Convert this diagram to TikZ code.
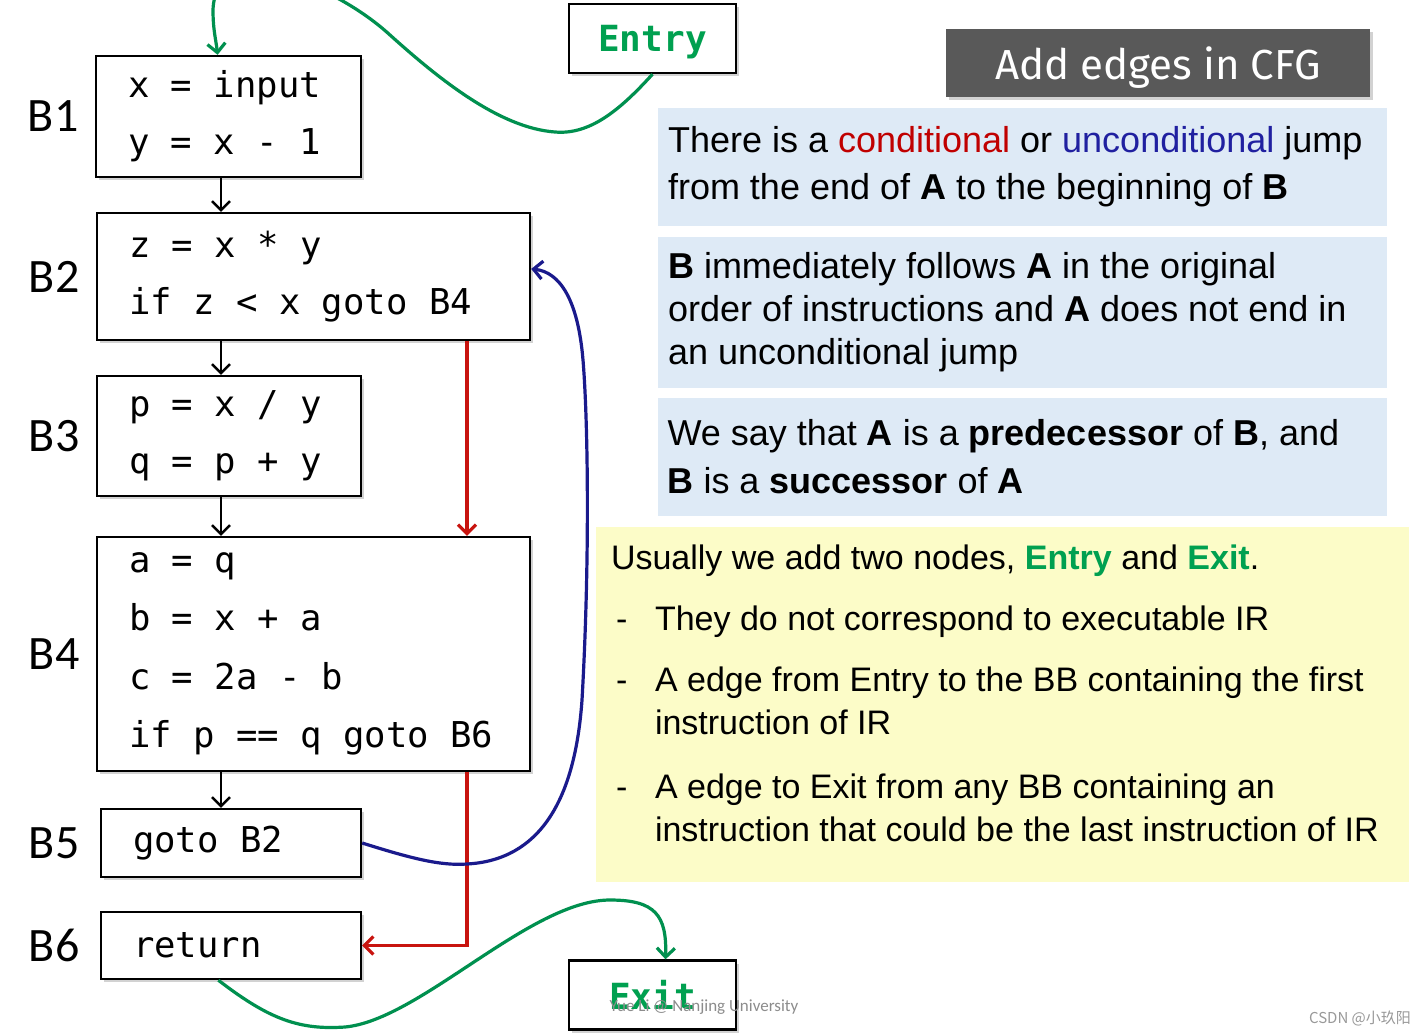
\documentclass[tikz,border=0pt]{standalone}
\usepackage{fontspec}
\setmainfont{Liberation Sans}
\newfontfamily\codefont{DejaVu Sans Mono}
\newfontfamily\blockfont{Carlito}
\newfontfamily\titlefont{Fira Sans}
\newfontfamily\cjkfont{Noto Sans CJK SC}
\usetikzlibrary{arrows.meta, positioning, shadows}
\definecolor{condred}{HTML}{C00000}
\definecolor{uncondblue}{HTML}{2020A0}
\definecolor{jumpred}{HTML}{C8140F}
\definecolor{backblue}{HTML}{1A1A8C}
\definecolor{entrygreen}{HTML}{00A050}
\definecolor{edgegreen}{HTML}{00904F}
\definecolor{infoblue}{HTML}{DEEAF6}
\definecolor{noteyellow}{HTML}{FCFCC8}
\definecolor{titlegray}{HTML}{595959}
\newcommand{\dashitem}{\makebox[22pt][l]{\hspace{2.5pt}-}}
\tikzset{
	blocknode/.style={
			draw=black,
			line width=1.2pt,
			fill=white,
			inner xsep=16pt,
			inner ysep=0pt,
			align=flush left,
			font=\codefont\fontsize{17.8}{28.5}\selectfont,
			drop shadow={shadow xshift=1.5pt,shadow yshift=-1.5pt,opacity=.35}
		},
	labelnode/.style={
			inner sep=2pt,
			font=\blockfont\fontsize{24}{28}\selectfont
		},
	termnode/.style={
			blocknode,
			inner xsep=4pt,
			text depth=0pt,
			minimum width=83.5pt,
			minimum height=34.5pt,
			text=entrygreen,
			font=\codefont\bfseries\fontsize{18}{20}\selectfont
		},
	infonode/.style={
			fill=infoblue,
			inner xsep=5pt,
			inner ysep=0pt,
			text width=354.5pt,
			align=flush left
		},
	notenode/.style={
			fill=noteyellow,
			inner xsep=7.5pt,
			inner ysep=0pt,
			text width=391.5pt,
			text height=1pt,
			minimum height=177.5pt,
			align=flush left,
			font=\fontsize{17}{21.5}\selectfont
		},
	titlenode/.style={
			fill=titlegray,
			text=white,
			text depth=0pt,
			minimum width=212pt,
			minimum height=34pt,
			font=\titlefont\fontsize{21}{24}\selectfont,
			drop shadow={shadow xshift=1.5pt,shadow yshift=-1.5pt,opacity=.35}
		},
	flow/.style={
			line width=1.2pt,
			-{Straight Barb[length=4.5pt,width=9pt]}
		},
	jump/.style={
			flow,
			draw=jumpred,
			line width=1.6pt
		},
	backjump/.style={
			flow,
			draw=backblue,
			line width=1.6pt
		},
	cfgedge/.style={
			flow,
			draw=edgegreen,
			line width=1.6pt
		}
}

\begin{document}
\begin{tikzpicture}[x=0.5pt, y=-0.5pt]
\clip (0,0) rectangle (1424,1035);
\fill[white] (0,0) rectangle (1424,1035);

% basic blocks
\node[blocknode, text width=100.5pt, minimum height=60.5pt] (B1) at (228.5,116.5) {x = input\\y = x - 1};
\node[blocknode, text width=184.5pt, minimum height=63.5pt] (B2) at (313.5,276.5) {z = x * y\\if z < x goto B4};
\node[blocknode, text width=100pt, minimum height=60pt] (B3) at (229,436) {p = x / y\\q = p + y};
\node[blocknode, text width=184.5pt, minimum height=117pt, font=\codefont\fontsize{17.8}{29.2}\selectfont] (B4) at (313.5,654) {a = q\\b = x + a\\c = 2a - b\\if p == q goto B6};
\node[blocknode, text width=98pt, minimum height=34pt] (B5) at (231,843) {goto B2};
\node[blocknode, text width=98pt, minimum height=33.5pt] (B6) at (231,945.5) {return};

\node[labelnode, left=6pt of B1] (lB1) {B1};
\node[labelnode, left=6pt of B2] (lB2) {B2};
\node[labelnode, left=6pt of B3] (lB3) {B3};
\node[labelnode, left=6pt of B4] (lB4) {B4};
\node[labelnode, left=8pt of B5] (lB5) {B5};
\node[labelnode, left=8pt of B6] (lB6) {B6};

\node[termnode] (Entry) at (652.5,38.5) {Entry};
\node[termnode] (Exit) at (652.5,995) {Exit};

% right hand side
\node[titlenode] (title) at (1158,63) {Add edges in CFG};
\node[infonode, minimum height=59pt, font=\fontsize{18}{23.5}\selectfont] (succ) at (1022.5,167)
  {There is a \textcolor{condred}{conditional} or \textcolor{uncondblue}{unconditional} jump\\
   from the end of \textbf{A} to the beginning of \textbf{B}};
\node[infonode, minimum height=75.5pt, font=\fontsize{18}{21.5}\selectfont] (follow) at (1022.5,312.5)
  {\textbf{B} immediately follows \textbf{A} in the original\\
   order of instructions and \textbf{A} does not end in\\
   an unconditional jump};
\node[infonode, minimum height=59pt, font=\fontsize{18}{24}\selectfont] (pred) at (1022,457)
  {We say that \textbf{A} is a \textbf{predecessor} of \textbf{B}, and\\
   \textbf{B} is a \textbf{successor} of \textbf{A}};
\node[notenode] (note) at (1002.5,704.5)
  {Usually we add two nodes, \textcolor{entrygreen}{\textbf{Entry}} and \textcolor{entrygreen}{\textbf{Exit}}.\\[9pt]
   \dashitem They do not correspond to executable IR\\[9pt]
   \dashitem A edge from Entry to the BB containing the first\\
   \hspace*{22pt}instruction of IR\\[10.5pt]
   \dashitem A edge to Exit from any BB containing an\\
   \hspace*{22pt}instruction that could be the last instruction of IR};

% fall through edges
\coordinate (spine) at (221,0);
\draw[flow] (B1.south -| spine) -- (B2.north -| spine);
\draw[flow] (B2.south -| spine) -- (B3.north -| spine);
\draw[flow] (B3.south -| spine) -- (B4.north -| spine);
\draw[flow] (B4.south -| spine) -- (B5.north -| spine);

% jumps
\coordinate (jx) at (467,0);
\draw[jump] (B2.south -| jx) -- (B4.north -| jx);
\draw[jump] (B4.south -| jx) |- (B6.east);
\draw[backjump] (B5.east) .. controls (410,858) and (440,866) .. (467,864)
  .. controls (540,860) and (575,800) .. (582,700)
  .. controls (590,560) and (588,420) .. (583,360)
  .. controls (578,300) and (560,272) .. (B2.2);

% entry and exit
\draw[cfgedge] (Entry.south) .. controls (620,110) and (590,135) .. (555,132)
  .. controls (500,128) and (440,80) .. (390,35)
  .. controls (330,-20) and (215,-60) .. (213,10)
  .. controls (213,30) and (216,40) .. (B1.100);
\draw[cfgedge] (B6.-110) .. controls (270,1020) and (300,1030) .. (345,1027)
  .. controls (420,1020) and (530,900) .. (610,900)
  .. controls (655,900) and (667,915) .. (Exit.70);

\node[text=black!45, font=\blockfont\fontsize{8.5}{10}\selectfont] (wm) at (704,1007) {Yue Li @ Nanjing University};
\node[text=black!40, font=\cjkfont\fontsize{7.5}{9}\selectfont] (csdn) at (1360,1018) {CSDN @小玖阳};
\end{tikzpicture}
\end{document}
